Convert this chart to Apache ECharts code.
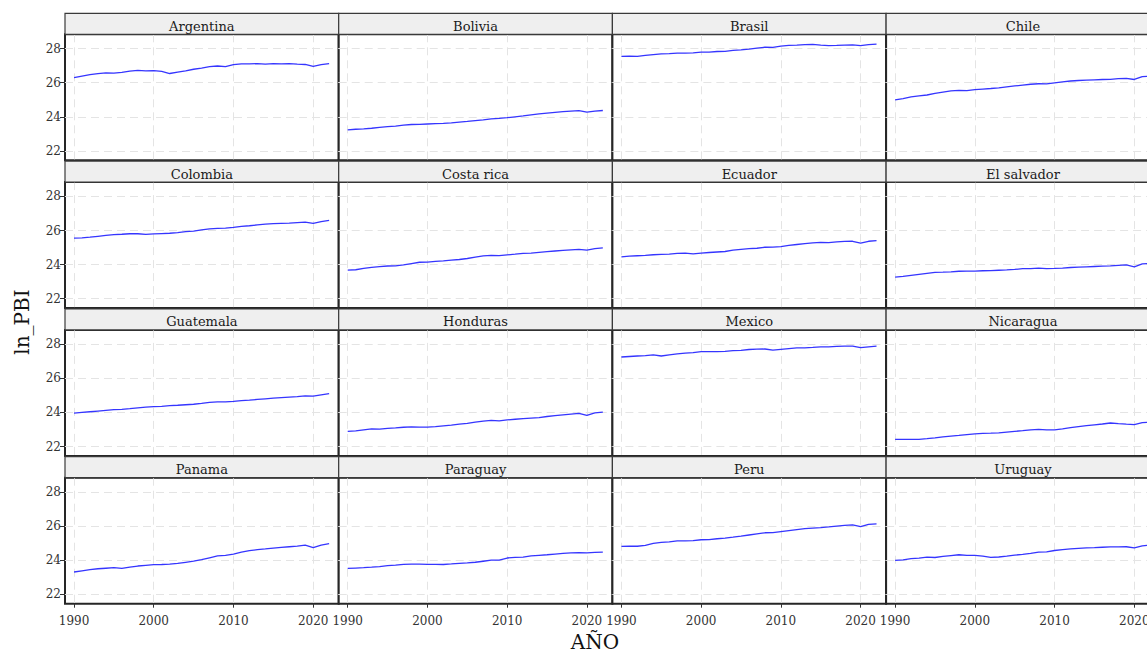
<!DOCTYPE html>
<html>
<head>
<meta charset="utf-8">
<title>ln_PBI por país</title>
<script src="https://cdn.jsdelivr.net/npm/echarts@6/dist/echarts.min.js"></script>
<style>
  html, body { margin: 0; padding: 0; background: #ffffff; overflow: hidden; }
  #chart { width: 1147px; height: 654px; }
</style>
</head>
<body>
<div id="chart"></div>
<script>
// Years on the horizontal axis
const years = [1990,1991,1992,1993,1994,1995,1996,1997,1998,1999,2000,2001,2002,2003,2004,2005,2006,2007,2008,2009,2010,2011,2012,2013,2014,2015,2016,2017,2018,2019,2020,2021,2022];

// Facet order (row by row)
const countries = ['Argentina','Bolivia','Brasil','Chile','Colombia','Costa rica','Ecuador','El salvador','Guatemala','Honduras','Mexico','Nicaragua','Panama','Paraguay','Peru','Uruguay'];

// ln of GDP per country, 1990-2022
const argentina  = [26.30,26.39,26.47,26.53,26.58,26.56,26.61,26.68,26.72,26.69,26.71,26.66,26.54,26.62,26.70,26.79,26.86,26.94,26.98,26.94,27.06,27.11,27.10,27.12,27.09,27.12,27.10,27.12,27.09,27.07,26.96,27.06,27.12];
const bolivia    = [23.24,23.27,23.29,23.33,23.38,23.42,23.46,23.51,23.55,23.56,23.58,23.60,23.62,23.65,23.69,23.73,23.78,23.82,23.88,23.91,23.95,24.00,24.05,24.12,24.17,24.22,24.26,24.30,24.34,24.36,24.27,24.33,24.37];
const brasil     = [27.55,27.56,27.55,27.60,27.65,27.69,27.71,27.74,27.74,27.75,27.79,27.80,27.83,27.84,27.90,27.93,27.97,28.03,28.08,28.07,28.15,28.19,28.21,28.24,28.25,28.21,28.18,28.19,28.21,28.22,28.18,28.23,28.26];
const chile      = [25.00,25.07,25.17,25.23,25.28,25.38,25.45,25.52,25.55,25.54,25.60,25.63,25.66,25.70,25.76,25.81,25.86,25.91,25.94,25.93,25.99,26.05,26.10,26.13,26.15,26.17,26.19,26.20,26.24,26.26,26.19,26.36,26.38];
const colombia   = [25.55,25.57,25.61,25.66,25.71,25.76,25.78,25.81,25.81,25.77,25.80,25.82,25.84,25.88,25.93,25.97,26.04,26.10,26.13,26.14,26.18,26.24,26.28,26.33,26.37,26.40,26.42,26.43,26.46,26.49,26.42,26.52,26.59];
const costaRica  = [23.68,23.70,23.78,23.84,23.88,23.92,23.93,23.98,24.06,24.14,24.15,24.19,24.22,24.26,24.30,24.36,24.44,24.51,24.54,24.53,24.57,24.61,24.66,24.68,24.72,24.76,24.80,24.84,24.87,24.89,24.85,24.94,24.98];
const ecuador    = [24.46,24.50,24.52,24.54,24.58,24.60,24.62,24.66,24.68,24.63,24.67,24.71,24.74,24.77,24.85,24.90,24.94,24.96,25.02,25.03,25.06,25.13,25.18,25.23,25.27,25.30,25.29,25.33,25.36,25.37,25.26,25.37,25.41];
const elSalvador = [23.27,23.31,23.37,23.43,23.49,23.55,23.56,23.58,23.61,23.62,23.62,23.64,23.65,23.67,23.69,23.72,23.76,23.77,23.79,23.77,23.78,23.80,23.83,23.85,23.87,23.89,23.91,23.93,23.96,23.99,23.87,24.04,24.07];
const guatemala  = [23.96,24.00,24.04,24.08,24.12,24.16,24.18,24.22,24.27,24.31,24.34,24.36,24.40,24.42,24.45,24.48,24.53,24.59,24.62,24.62,24.65,24.69,24.72,24.76,24.80,24.84,24.87,24.90,24.93,24.97,24.95,25.03,25.10];
const honduras   = [22.89,22.92,22.98,23.04,23.02,23.06,23.09,23.13,23.15,23.14,23.14,23.17,23.21,23.25,23.31,23.36,23.43,23.49,23.53,23.51,23.56,23.60,23.64,23.67,23.70,23.76,23.81,23.86,23.90,23.94,23.82,23.97,24.02];
const mexico     = [27.25,27.28,27.31,27.33,27.37,27.31,27.37,27.43,27.48,27.51,27.56,27.56,27.56,27.58,27.62,27.64,27.69,27.71,27.72,27.65,27.70,27.74,27.78,27.79,27.81,27.84,27.85,27.87,27.89,27.89,27.80,27.85,27.89];
const nicaragua  = [22.42,22.42,22.42,22.42,22.46,22.51,22.57,22.61,22.65,22.70,22.74,22.77,22.78,22.80,22.85,22.89,22.93,22.98,23.01,22.98,22.98,23.04,23.11,23.17,23.22,23.27,23.32,23.38,23.34,23.31,23.29,23.40,23.43];
const panama     = [23.31,23.38,23.45,23.50,23.53,23.56,23.52,23.59,23.66,23.70,23.74,23.75,23.77,23.81,23.88,23.95,24.03,24.14,24.25,24.29,24.36,24.47,24.56,24.62,24.66,24.71,24.75,24.79,24.83,24.88,24.74,24.88,24.97];
const paraguay   = [23.52,23.54,23.56,23.59,23.63,23.68,23.71,23.76,23.77,23.77,23.76,23.76,23.75,23.78,23.82,23.84,23.88,23.94,24.00,24.01,24.13,24.17,24.18,24.25,24.29,24.32,24.36,24.40,24.43,24.45,24.43,24.46,24.48];
const peru       = [24.81,24.83,24.82,24.87,24.99,25.05,25.08,25.14,25.14,25.15,25.20,25.21,25.26,25.30,25.35,25.41,25.48,25.55,25.61,25.62,25.68,25.74,25.80,25.85,25.88,25.91,25.95,26.00,26.04,26.07,25.97,26.10,26.13];
const uruguay    = [23.99,24.02,24.09,24.12,24.18,24.16,24.22,24.27,24.32,24.29,24.28,24.24,24.17,24.19,24.24,24.30,24.34,24.40,24.47,24.49,24.57,24.62,24.66,24.70,24.73,24.74,24.76,24.78,24.78,24.79,24.72,24.84,24.89];

const seriesValues = [argentina, bolivia, brasil, chile, colombia, costaRica, ecuador, elSalvador,
                      guatemala, honduras, mexico, nicaragua, panama, paraguay, peru, uruguay];

// Tick labels
const xTicks = [1990, 2000, 2010, 2020];
const yTicks = [22, 24, 26, 28];

// Facet geometry (the fourth column runs past the right edge of the page)
const colLeft = [65, 338.7, 612.4, 886.1];
const panelTop = [34.3, 182.1, 329.9, 477.7];
const panelW = 273.7;
const panelH = 126;
const stripH = 21;
const pageW = 1147;

const FONT = 'DejaVu Serif';
const TEXT = '#333333';
const GRID_LINE = { color: '#e4e4e4', width: 1, type: [8, 5] };

const grids = [], xAxes = [], yAxes = [], series = [], graphics = [];

countries.forEach((name, i) => {
  const r = Math.floor(i / 4), c = i % 4;
  grids.push({
    left: colLeft[c], top: panelTop[r],
    right: pageW - (colLeft[c] + panelW), height: panelH,
    outerBoundsMode: 'none',
    show: true, backgroundColor: '#ffffff', borderColor: '#262626', borderWidth: 2,
    containLabel: false
  });
  xAxes.push({
    gridIndex: i, type: 'value', min: 1988.87, max: 2023.2,
    axisLine: { show: false },
    axisTick: { show: r === 3, length: 4, customValues: xTicks, lineStyle: { color: '#333', width: 1 } },
    axisLabel: { show: r === 3, customValues: xTicks, margin: 11, color: TEXT, fontFamily: FONT, fontSize: 12,
                 formatter: v => String(v) },
    splitLine: { show: true, lineStyle: GRID_LINE }
  });
  yAxes.push({
    gridIndex: i, type: 'value', min: 21.45, max: 28.84,
    axisLine: { show: false },
    axisTick: { show: c === 0, length: 5, customValues: yTicks, lineStyle: { color: '#333', width: 1 } },
    axisLabel: { show: c === 0, customValues: yTicks, margin: 4, color: TEXT, fontFamily: FONT, fontSize: 12,
                 formatter: v => String(v) },
    splitLine: { show: true, lineStyle: GRID_LINE }
  });
  series.push({
    type: 'line', name: name, xAxisIndex: i, yAxisIndex: i,
    data: years.map((y, k) => [y, seriesValues[i][k]]),
    showSymbol: false, symbol: 'none', silent: true,
    lineStyle: { color: '#3535ff', width: 1.3 },
    z: 3
  });
  // facet strip
  graphics.push({
    type: 'rect', z: 10,
    shape: { x: colLeft[c], y: panelTop[r] - stripH, width: panelW, height: stripH },
    style: { fill: '#efefef', stroke: '#3a3a3a', lineWidth: 1.2 }
  });
  graphics.push({
    type: 'text', z: 11,
    x: colLeft[c] + panelW / 2, y: panelTop[r] - 8,
    style: { text: name, fill: '#1a1a1a', font: '13px "DejaVu Serif"', align: 'center', verticalAlign: 'middle' }
  });
});

// axis titles
graphics.push({
  type: 'text', z: 11, x: 22, y: 322, rotation: Math.PI / 2,
  style: { text: 'ln_PBI', fill: '#111', font: '20px "DejaVu Serif"', align: 'center', verticalAlign: 'middle' }
});
graphics.push({
  type: 'text', z: 11, x: 595, y: 642,
  style: { text: 'AÑO', fill: '#111', font: '20px "DejaVu Serif"', align: 'center', verticalAlign: 'middle' }
});

const chart = echarts.init(document.getElementById('chart'), null, { renderer: 'svg' });
chart.setOption({
  animation: false,
  backgroundColor: '#ffffff',
  grid: grids,
  xAxis: xAxes,
  yAxis: yAxes,
  series: series,
  graphic: graphics
});
</script>
</body>
</html>
